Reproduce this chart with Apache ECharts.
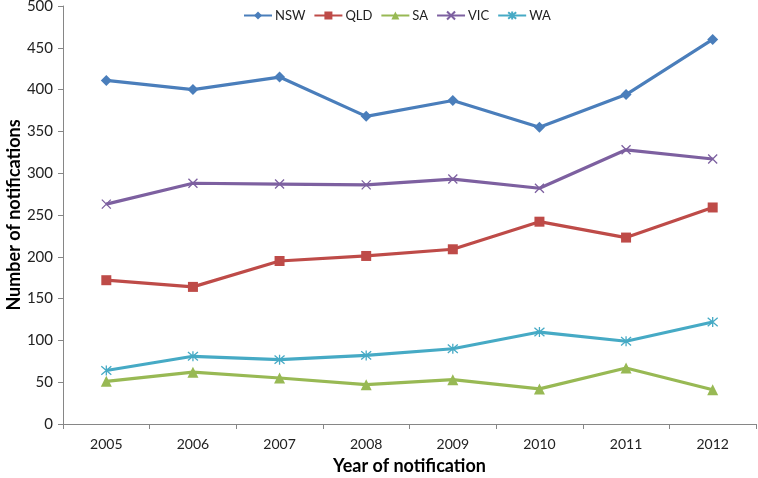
<!DOCTYPE html>
<html>
<head>
<meta charset="utf-8">
<script src="https://cdn.jsdelivr.net/npm/echarts@6/dist/echarts.min.js"></script>
<style>html,body{margin:0;padding:0;background:#fff}#c{width:758px;height:478px}</style>
</head>
<body>
<div id="c"></div>
<script>
const years = ['2005','2006','2007','2008','2009','2010','2011','2012'];
const NSW = [411, 400, 415, 368, 387, 355, 394, 460];
const QLD = [172, 164, 195, 201, 209, 242, 223, 259];
const SA  = [51, 62, 55, 47, 53, 42, 67, 41];
const VIC = [263, 288, 287, 286, 293, 282, 328, 317];
const WA  = [64, 81, 77, 82, 90, 110, 99, 122];
const yTicks = {min: 0, max: 500, interval: 50};

const font = 'Lato, "Open Sans", sans-serif';
const xPath = 'path://M0,0 L10,10 M10,0 L0,10';
const starPath = 'path://M0,0 L10,10 M10,0 L0,10 M5,-1 L5,11';

function ser(name, data, color, symbol, size, stroke) {
  return {
    name, type: 'line', data,
    symbol, symbolSize: size,
    lineStyle: {color, width: 3.2},
    itemStyle: stroke ? {color: 'rgba(0,0,0,0)', borderColor: color, borderWidth: 1.3} : {color},
    emphasis: {disabled: true},
    z: 2
  };
}

const chart = echarts.init(document.getElementById('c'));
chart.setOption({
  animation: false,
  color: ['#4A7EBB', '#BE4B48', '#98B954', '#7D60A0', '#46AAC5'],
  textStyle: {fontFamily: font},
  legend: {
    top: 4, left: 238,
    itemWidth: 28, itemHeight: 10, itemGap: 8,
    textStyle: {fontFamily: font, fontSize: 13, color: '#222', padding: [0, 0, 0, -2]},
    data: ['NSW', 'QLD', 'SA', 'VIC', 'WA']
  },
  grid: {left: 63, right: 2, top: 6, bottom: 54, containLabel: false, outerBoundsMode: 'none'},
  xAxis: {
    type: 'category', data: years, boundaryGap: true,
    name: 'Year of notification', nameLocation: 'middle', nameGap: 33,
    nameMoveOverlap: false,
    nameTextStyle: {fontFamily: font, fontSize: 18, fontWeight: 'bold', color: '#000'},
    axisLine: {lineStyle: {color: '#868686', width: 1}},
    axisTick: {show: true, length: 5, lineStyle: {color: '#868686'}},
    axisLabel: {fontFamily: font, fontSize: 14, color: '#222', margin: 13}
  },
  yAxis: {
    type: 'value', min: yTicks.min, max: yTicks.max, interval: yTicks.interval,
    name: 'Number of notifications', nameLocation: 'middle', nameGap: 40,
    nameMoveOverlap: false,
    nameTextStyle: {fontFamily: font, fontSize: 18, fontWeight: 'bold', color: '#000'},
    axisLine: {show: true, lineStyle: {color: '#868686', width: 1}},
    axisTick: {show: true, length: 5, lineStyle: {color: '#868686'}},
    splitLine: {show: false},
    axisLabel: {fontFamily: font, fontSize: 15, color: '#222', margin: 10}
  },
  series: [
    ser('NSW', NSW, '#4A7EBB', 'diamond', 11),
    ser('QLD', QLD, '#BE4B48', 'rect', 10),
    ser('SA', SA, '#98B954', 'triangle', 11),
    ser('VIC', VIC, '#7D60A0', xPath, 9, true),
    ser('WA', WA, '#46AAC5', starPath, 10, true)
  ]
});
</script>
</body>
</html>
